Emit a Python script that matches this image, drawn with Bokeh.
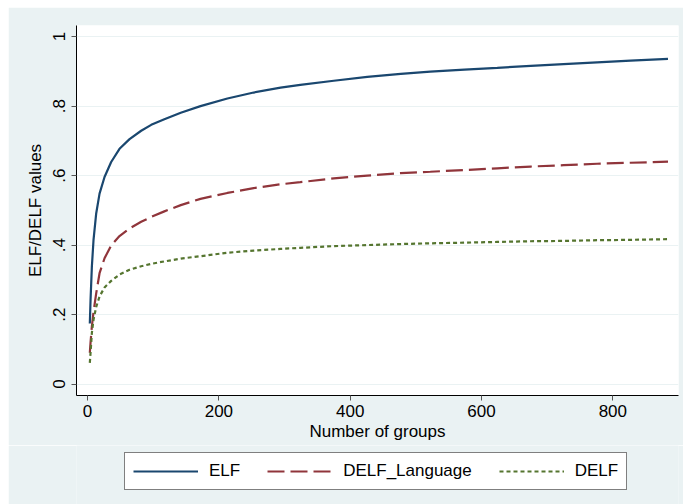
from bokeh.plotting import figure
from bokeh.models import Range1d, FixedTicker, Legend, LegendItem
from bokeh.layouts import column
from bokeh.embed import file_html
from bokeh.resources import INLINE

# ---- data ----
groups = [3.5, 4.6, 6.6, 9.1, 13.2, 18.3, 25.9, 36, 48.7, 64, 81.7, 97, 117,
          142, 172, 213, 253, 294, 324, 375, 426, 477, 522, 574, 624, 675,
          725, 776, 827, 884]
elf = [0.174, 0.242, 0.338, 0.414, 0.491, 0.548, 0.596, 0.639, 0.677, 0.705,
       0.729, 0.746, 0.762, 0.781, 0.800, 0.822, 0.839, 0.853, 0.861, 0.873,
       0.884, 0.893, 0.899, 0.905, 0.910, 0.916, 0.921, 0.926, 0.931, 0.936]
delf_language = [0.090, 0.12, 0.166, 0.207, 0.261, 0.319, 0.362, 0.399,
                 0.426, 0.448, 0.467, 0.481, 0.497, 0.515, 0.533, 0.550,
                 0.564, 0.575, 0.581, 0.592, 0.600, 0.607, 0.611, 0.616,
                 0.621, 0.626, 0.630, 0.634, 0.637, 0.640]
delf = [0.061, 0.09, 0.147, 0.185, 0.222, 0.252, 0.278, 0.297, 0.315, 0.329,
        0.339, 0.346, 0.353, 0.361, 0.368, 0.378, 0.384, 0.389, 0.392, 0.397,
        0.400, 0.403, 0.405, 0.407, 0.409, 0.411, 0.412, 0.414, 0.415, 0.417]
series_names = ["ELF", "DELF_Language", "DELF"]
series_colors = ["#1a476f", "#90353b", "#55752f"]
series_dash = ["solid", "17 6", "4 3"]
x_ticks = [0, 200, 400, 600, 800]
y_ticks = [0, 0.2, 0.4, 0.6, 0.8, 1]
y_tick_labels = ["0", ".2", ".4", ".6", ".8", "1"]

FONT = "Liberation Sans"
BG = "#eaf2f3"
series = [elf, delf_language, delf]

p = figure(width=675, height=438, margin=(7, 0, 0, 8),
           output_backend="svg", toolbar_location=None,
           x_range=Range1d(-16.8, 900), y_range=Range1d(-0.033, 1.032),
           min_border_left=68, min_border_right=5, min_border_top=18,
           min_border_bottom=50)
p.border_fill_color = BG
p.background_fill_color = "white"
p.outline_line_color = None

p.xgrid.grid_line_color = None
p.ygrid.grid_line_color = BG
p.ygrid.grid_line_width = 1.2

p.xaxis.ticker = FixedTicker(ticks=x_ticks)
p.yaxis.ticker = FixedTicker(ticks=y_ticks)
p.yaxis.major_label_overrides = dict(zip(y_ticks, y_tick_labels))
p.yaxis.major_label_orientation = "vertical"
for ax in (p.xaxis, p.yaxis):
    ax.minor_tick_line_color = None
    ax.major_tick_in = 0
    ax.major_tick_out = 5
    ax.major_tick_line_color = "#555555"
    ax.axis_line_color = "black"
    ax.major_label_text_font = FONT
    ax.major_label_text_font_size = "17px"
    ax.major_label_text_color = "black"
    ax.axis_label_text_font = FONT
    ax.axis_label_text_font_size = "17px"
    ax.axis_label_text_font_style = "normal"
    ax.axis_label_text_color = "black"
p.xaxis.major_label_standoff = 4
p.yaxis.major_label_standoff = 6
p.xaxis.axis_label = "Number of groups"
p.yaxis.axis_label = "ELF/DELF values"
p.xaxis.axis_label_standoff = 2
p.yaxis.axis_label_standoff = 6

for ys, c, d in zip(series, series_colors, series_dash):
    p.line(groups, ys, line_color=c, line_width=2.2, line_dash=d)

# legend strip below the chart (same background); its ranges keep the
# legend's own line renderers out of view, so only the key glyphs show
pl = figure(width=675, height=59, margin=(0, 0, 0, 8),
            output_backend="svg", toolbar_location=None,
            x_range=Range1d(-3000, -2000), y_range=Range1d(-3000, -2000),
            x_axis_location=None, y_axis_location=None, min_border=0)
pl.border_fill_color = BG
pl.background_fill_color = BG
pl.outline_line_color = None
pl.xgrid.visible = False
pl.ygrid.visible = False
items = []
for name, ys, c, d in zip(series_names, series, series_colors, series_dash):
    r = pl.line(groups, ys, line_color=c, line_width=2.2, line_dash=d)
    items.append(LegendItem(label=name, renderers=[r]))

legend = Legend(items=items, orientation="horizontal", location=(48, 14))
legend.label_text_font = FONT
legend.label_text_font_size = "17px"
legend.label_text_color = "black"
legend.glyph_width = 65
legend.label_standoff = 11
legend.spacing = 27
legend.padding = 8
legend.margin = 0
legend.border_line_color = "black"
legend.border_line_width = 1
legend.background_fill_color = "white"
legend.background_fill_alpha = 1
pl.add_layout(legend, "center")

layout = column(p, pl, spacing=0)
open("out.html", "w").write(file_html(layout, INLINE))
